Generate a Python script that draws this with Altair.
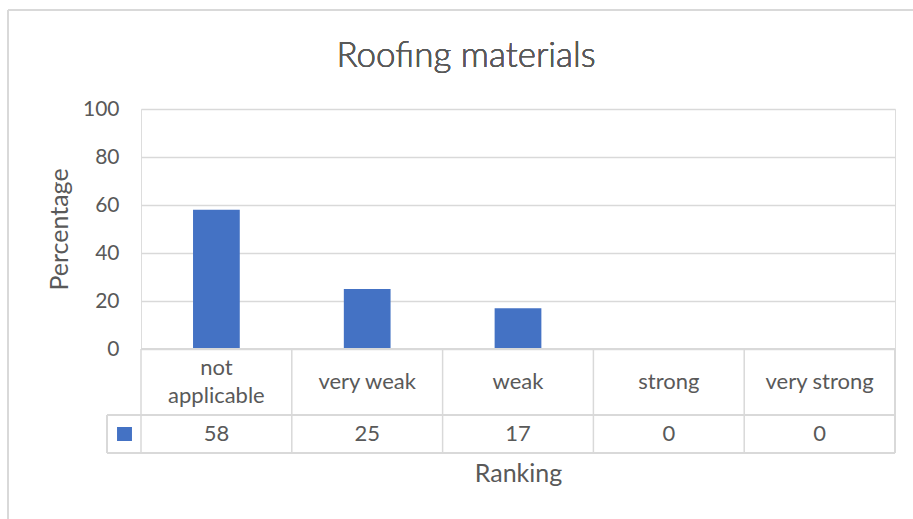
import altair as alt
import pandas as pd

# Survey ranking of roofing materials
categories = ["not applicable", "very weak", "weak", "strong", "very strong"]
percentages = [58, 25, 17, 0, 0]

title_text = "Roofing materials"
y_title = "Percentage"
x_title = "Ranking"

BAR_COLOR = "#4472C4"
TEXT_COLOR = "#595959"
GRID_COLOR = "#d9d9d9"
FONT = "Lato"

W, H = 754, 240          # plot area
ROW1, ROW2 = 66, 38      # data-table row heights
LEGEND_W = 34            # legend cell to the left of the table
LINE_H = 28              # line height of wrapped category labels

df = pd.DataFrame({"cat": categories, "value": percentages})

x_enc = alt.X("cat:N", sort=categories,
              scale=alt.Scale(paddingInner=0, paddingOuter=0),
              axis=alt.Axis(labels=False, ticks=False, domain=False, grid=False,
                            title=x_title, titleFont=FONT, titleFontSize=25,
                            titleFontWeight="normal", titleColor=TEXT_COLOR,
                            titleY=124, titleBaseline="middle"))

base = alt.Chart(df)

bars = base.mark_bar(color=BAR_COLOR, width=alt.RelativeBandSize(0.31)).encode(
    x=x_enc,
    y=alt.Y("value:Q", scale=alt.Scale(domain=[0, 100]),
            axis=alt.Axis(values=[0, 20, 40, 60, 80, 100], grid=True,
                          gridColor=GRID_COLOR, gridWidth=1.3,
                          ticks=False, domain=False,
                          labelFont=FONT, labelFontSize=21, labelColor=TEXT_COLOR,
                          labelPadding=22,
                          title=y_title, titleFont=FONT, titleFontSize=25,
                          titleFontWeight="normal", titleColor=TEXT_COLOR,
                          titlePadding=10)),
)

# data table: category row (long names wrap onto two lines)
wrapped = "length(datum.cat) > 12"
cat_single = base.transform_filter("!(" + wrapped + ")").mark_text(
    font=FONT, fontSize=22, color=TEXT_COLOR, baseline="middle").encode(
    x=alt.X("cat:N", sort=categories),
    y=alt.value(H + ROW1 / 2),
    text="cat:N",
)
cat_multi = base.transform_filter(wrapped).transform_calculate(
    label="split(datum.cat, ' ')"
).mark_text(font=FONT, fontSize=22, color=TEXT_COLOR, baseline="middle",
            lineHeight=LINE_H).encode(
    x=alt.X("cat:N", sort=categories),
    y=alt.value(H + ROW1 / 2 - LINE_H / 2),
    text="label:N",
)

# data table: value row
val_text = base.mark_text(font=FONT, fontSize=22, color=TEXT_COLOR,
                          baseline="middle").encode(
    x=alt.X("cat:N", sort=categories),
    y=alt.value(H + ROW1 + ROW2 / 2),
    text="value:Q",
)

# vertical cell borders at each category's left edge
vlines = base.mark_rule(color=GRID_COLOR, strokeWidth=1.5).encode(
    x=alt.X("cat:N", sort=categories, bandPosition=0),
    y=alt.value(H),
    y2=alt.value(H + ROW1 + ROW2),
)
right_line = base.mark_rule(color=GRID_COLOR, strokeWidth=1.5).encode(
    x=alt.value(W), y=alt.value(H), y2=alt.value(H + ROW1 + ROW2),
)
legend_left = base.mark_rule(color=GRID_COLOR, strokeWidth=1.5).encode(
    x=alt.value(-LEGEND_W), y=alt.value(H + ROW1), y2=alt.value(H + ROW1 + ROW2),
)
hline_top = base.mark_rule(color=GRID_COLOR, strokeWidth=1.5).encode(
    x=alt.value(0), x2=alt.value(W), y=alt.value(H),
)
hline_mid = base.mark_rule(color=GRID_COLOR, strokeWidth=1.5).encode(
    x=alt.value(-LEGEND_W), x2=alt.value(W), y=alt.value(H + ROW1),
)
hline_bot = base.mark_rule(color=GRID_COLOR, strokeWidth=1.5).encode(
    x=alt.value(-LEGEND_W), x2=alt.value(W), y=alt.value(H + ROW1 + ROW2),
)

legend_key = base.mark_square(color=BAR_COLOR, size=196, opacity=1).encode(
    x=alt.value(-LEGEND_W / 2 + 0.5), y=alt.value(H + ROW1 + ROW2 / 2),
)

title = base.mark_text(font=FONT, fontSize=35, fontWeight=300, color=TEXT_COLOR,
                       baseline="alphabetic", align="center").encode(
    x=alt.value(325), y=alt.value(-42), text=alt.value(title_text),
)

# chart-area frame
frame = base.mark_rule(color=GRID_COLOR, strokeWidth=2).encode(
    x=alt.value(-133), x2=alt.value(W + 40), y=alt.value(-99),
)
frame_left = base.mark_rule(color=GRID_COLOR, strokeWidth=2).encode(
    x=alt.value(-133), y=alt.value(-99), y2=alt.value(H + 200),
)

chart = alt.layer(
    frame, frame_left, bars, vlines, right_line, legend_left,
    hline_top, hline_mid, hline_bot, cat_single, cat_multi, val_text,
    legend_key, title,
).properties(
    width=W, height=H,
    autosize=alt.AutoSizeParams(type="none"),
    padding={"left": 141, "top": 109, "right": 18, "bottom": 170},
).configure_view(stroke=None).configure(background="white")

chart.save("out.html", embed_options={"renderer": "svg", "actions": False})
